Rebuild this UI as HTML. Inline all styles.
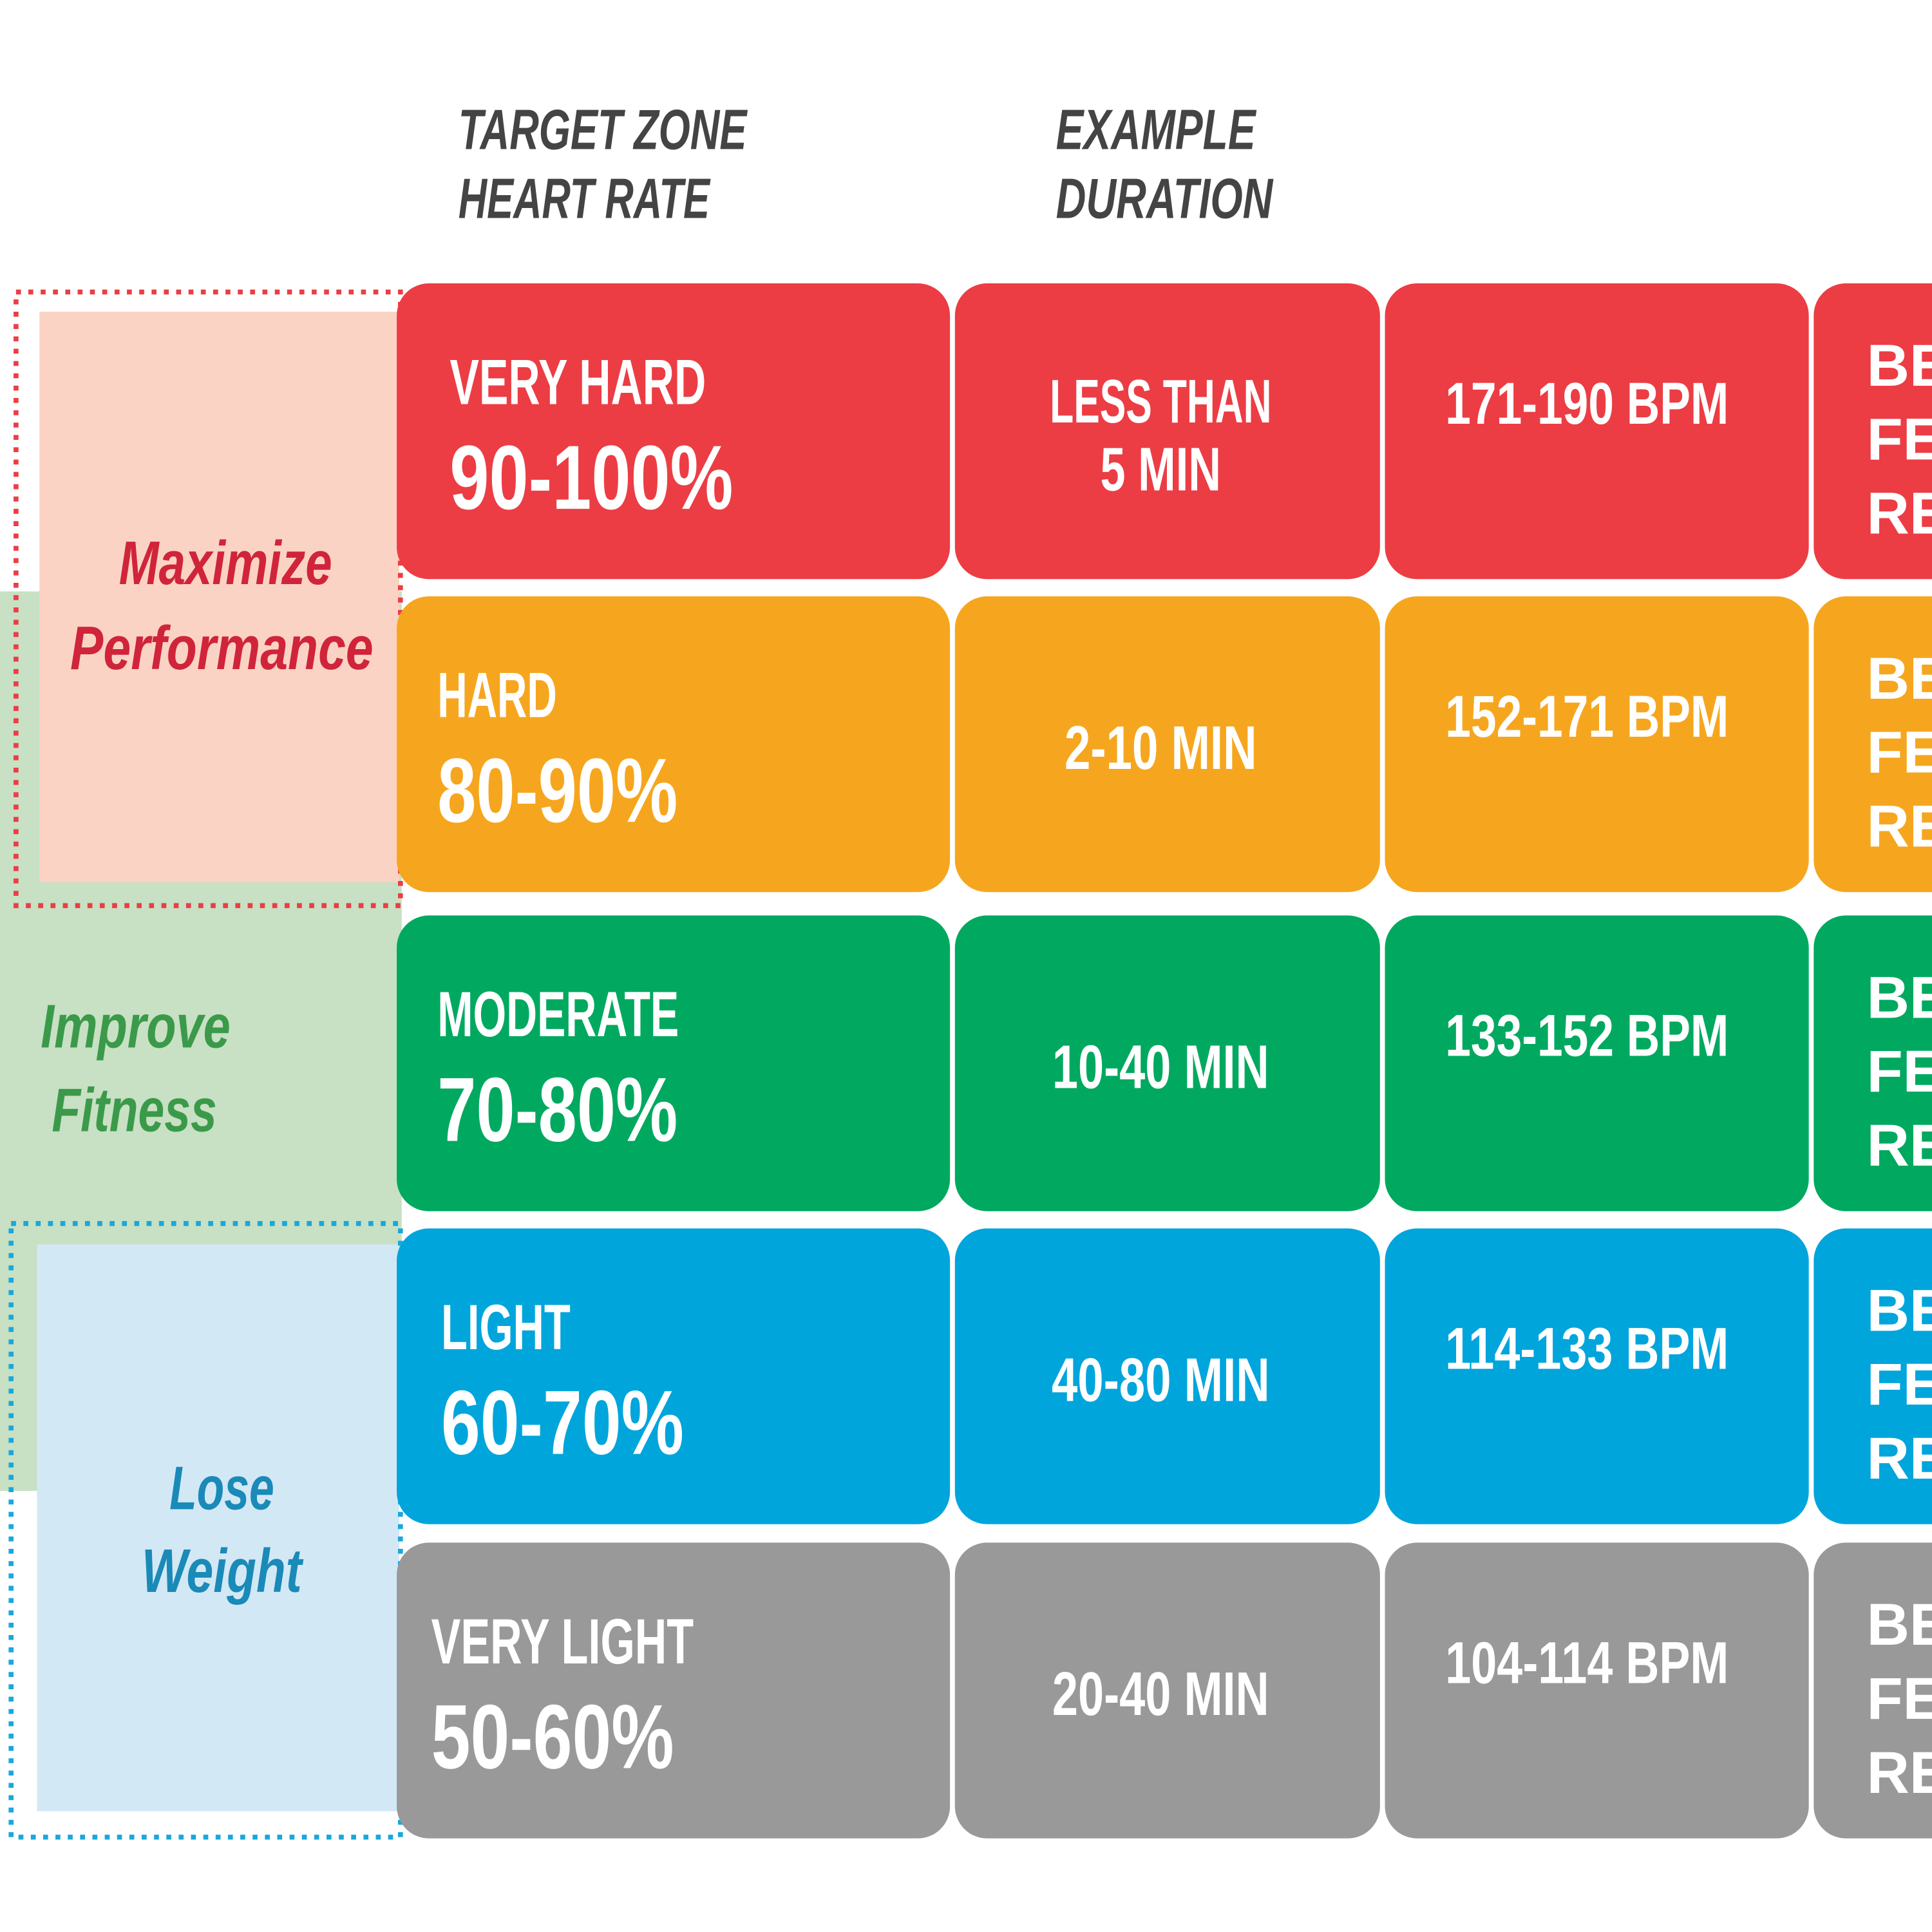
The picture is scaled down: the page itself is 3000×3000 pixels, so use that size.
<!DOCTYPE html>
<html><head><meta charset="utf-8"><style>
html,body{margin:0;padding:0;background:#fff;width:3000px;height:3000px;overflow:hidden}
svg{display:block}
text{font-family:"Liberation Sans Narrow","Liberation Sans",sans-serif;font-weight:bold}
</style></head><body>
<svg id="chart" width="3000" height="3000" viewBox="0 0 1568 1568" xmlns="http://www.w3.org/2000/svg">
<g>
<rect x="0" y="480" width="326" height="730" fill="#c8e0c3"/>
<rect x="32" y="253" width="292" height="463" fill="#fbd3c5"/>
<rect x="13" y="237" width="312" height="498" fill="none" stroke="#ec3d44" stroke-width="4" stroke-dasharray="4 6"/>
<rect x="30" y="1010" width="294" height="460" fill="#d3e8f5"/>
<rect x="9" y="993" width="316" height="498" fill="none" stroke="#18a8dc" stroke-width="4" stroke-dasharray="4 6"/>
<text x="183" y="474" text-anchor="middle" font-style="italic" font-size="50" fill="#d0243a" textLength="173" lengthAdjust="spacingAndGlyphs">Maximize</text>
<text x="180" y="543" text-anchor="middle" font-style="italic" font-size="50" fill="#d0243a" textLength="246" lengthAdjust="spacingAndGlyphs">Performance</text>
<text x="110" y="850" text-anchor="middle" font-style="italic" font-size="50" fill="#3a9a4a" textLength="154" lengthAdjust="spacingAndGlyphs">Improve</text>
<text x="109" y="918" text-anchor="middle" font-style="italic" font-size="50" fill="#3a9a4a" textLength="134" lengthAdjust="spacingAndGlyphs">Fitness</text>
<text x="180" y="1225" text-anchor="middle" font-style="italic" font-size="50" fill="#1a8ab8" textLength="85" lengthAdjust="spacingAndGlyphs">Lose</text>
<text x="180" y="1292" text-anchor="middle" font-style="italic" font-size="50" fill="#1a8ab8" textLength="130" lengthAdjust="spacingAndGlyphs">Weight</text>
</g>
<g>
<text x="372" y="121" font-style="italic" font-size="46" fill="#444" textLength="234" lengthAdjust="spacingAndGlyphs">TARGET ZONE</text>
<text x="372" y="177" font-style="italic" font-size="46" fill="#444" textLength="204" lengthAdjust="spacingAndGlyphs">HEART RATE</text>
<text x="857" y="121" font-style="italic" font-size="46" fill="#444" textLength="162" lengthAdjust="spacingAndGlyphs">EXAMPLE</text>
<text x="857" y="177" font-style="italic" font-size="46" fill="#444" textLength="176" lengthAdjust="spacingAndGlyphs">DURATION</text>
</g>
<g id="rows"></g>
</svg>
<script>
const zoneNames = ["VERY HARD","HARD","MODERATE","LIGHT","VERY LIGHT"];
const zonePercents = ["90-100%","80-90%","70-80%","60-70%","50-60%"];
const durations = [["LESS THAN","5 MIN"],["2-10 MIN"],["10-40 MIN"],["40-80 MIN"],["20-40 MIN"]];
const bpmRanges = ["171-190 BPM","152-171 BPM","133-152 BPM","114-133 BPM","104-114 BPM"];
const benefitText = ["BE","FE","RE"];

const colors = ["#ec3d44","#f6a61e","#00a95f","#00a5dc","#999999"];
const rowTops = [230,484,743,997,1252];
const rowH = 240;
const colX = [320,773,1122,1470];
const colW = [453,349,348,160];
const nameW = [208,97,196,105,213];
const pctW = [230,195,195,197,197];
const labelX = [365,355,355,358,350];
const durW = [[180,98],[156],[176],[177],[176]];
const NS = "http://www.w3.org/2000/svg";
const g = document.getElementById('rows');
function mk(tag, attrs){const e=document.createElementNS(NS,tag);for(const k in attrs)e.setAttribute(k,attrs[k]);return e;}
function txt(str, attrs){const t=mk('text',attrs);t.textContent=str;return t;}
zoneNames.forEach((nm,i)=>{
  const top = rowTops[i];
  const row = mk('g',{});
  
  
  colX.forEach((x,c)=>{
    const r = mk('rect',{x:x+2,y:top,width:colW[c]-4,height:rowH,rx:26,ry:26,fill:colors[i]});
    
    
    row.appendChild(r);
  });
  const t1 = txt(nm,{x:labelX[i],y:top+98,'font-size':52,fill:'#fff',textLength:nameW[i],lengthAdjust:'spacingAndGlyphs'});
  
  
  row.appendChild(t1);
  const t2 = txt(zonePercents[i],{x:labelX[i],y:top+183,'font-size':74,fill:'#fff',textLength:pctW[i],lengthAdjust:'spacingAndGlyphs'});
  
  
  row.appendChild(t2);
  const d = durations[i];
  d.forEach((line,k)=>{
    const y = d.length===2 ? top+113+k*55 : top+140;
    const t = txt(line,{x:942,y:y,'text-anchor':'middle','font-size':50,fill:'#fff',textLength:durW[i][k],lengthAdjust:'spacingAndGlyphs'});
    
    
    row.appendChild(t);
  });
  const b = txt(bpmRanges[i],{x:1288,y:top+114,'text-anchor':'middle','font-size':48,fill:'#fff',textLength:230,lengthAdjust:'spacingAndGlyphs'});
  
  
  row.appendChild(b);
  benefitText.forEach((s,k)=>{
    const t = txt(s,{x:1515,y:top+83+k*60,'font-size':48,fill:'#fff'});
    
    
    row.appendChild(t);
  });
  g.appendChild(row);
});
</script>
</body></html>
